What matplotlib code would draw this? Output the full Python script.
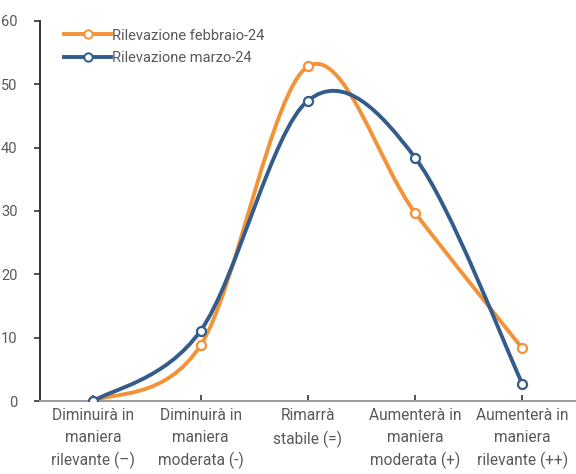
import numpy as np
import matplotlib
matplotlib.use("Agg")
import matplotlib.pyplot as plt
from matplotlib.path import Path
from matplotlib.patches import PathPatch
from matplotlib.lines import Line2D

# ------------------------------------------------------------
# Data
# ------------------------------------------------------------
categories = [
    "Diminuirà in\nmaniera\nrilevante (\u2013)",
    "Diminuirà in\nmaniera\nmoderata (-)",
    "Rimarrà\nstabile (=)",
    "Aumenterà in\nmaniera\nmoderata (+)",
    "Aumenterà in\nmaniera\nrilevante (++)",
]
feb_values = [0.0, 8.8, 52.8, 29.7, 8.3]
mar_values = [0.0, 11.1, 47.4, 38.4, 2.7]
series_labels = ["Rilevazione febbraio-24", "Rilevazione marzo-24"]
y_ticks = [0, 10, 20, 30, 40, 50, 60]

ORANGE = "#F39237"
BLUE = "#335C8A"
TEXT = "#595959"

plt.rcParams["font.family"] = ["Roboto", "DejaVu Sans"]


def smooth_path(xs, ys):
    """Excel-like smoothed line: cubic Bezier segments through the points."""
    pts = np.column_stack([xs, ys]).astype(float)
    ext = np.vstack([pts[0], pts, pts[-1]])
    verts = [pts[0]]
    codes = [Path.MOVETO]
    for i in range(1, len(ext) - 2):
        p0, p1, p2, p3 = ext[i - 1], ext[i], ext[i + 1], ext[i + 2]
        c1 = p1 + (p2 - p0) / 6.0
        c2 = p2 - (p3 - p1) / 6.0
        verts += [c1, c2, p2]
        codes += [Path.CURVE4] * 3
    return Path(verts, codes)


fig = plt.figure(figsize=(5.76, 4.74), dpi=100)
ax = fig.add_axes([0.069, 0.154, 0.931, 0.802])

x = np.arange(len(categories))
for vals, color in [(feb_values, ORANGE), (mar_values, BLUE)]:
    patch = PathPatch(smooth_path(x, vals), facecolor="none", edgecolor=color,
                      linewidth=2.8, capstyle="round", joinstyle="round", zorder=2)
    ax.add_patch(patch)
    ax.plot(x, vals, ls="none", marker="o", markersize=6.5, markerfacecolor="white",
            markeredgecolor=color, markeredgewidth=1.6, zorder=3)

ax.set_xlim(-0.5, len(categories) - 0.5)
ax.set_ylim(0, 60)
ax.set_yticks(y_ticks)
ax.set_xticks(x)
ax.set_xticklabels(categories, fontsize=11.2, color=TEXT, linespacing=1.55)
ax.tick_params(axis="y", labelsize=10.5, labelcolor=TEXT, direction="out",
               length=4, width=1.2, color="#333333", pad=12)
ax.tick_params(axis="x", direction="in", length=4, width=1.2, color="#333333", pad=5)

for side in ["top", "right"]:
    ax.spines[side].set_visible(False)
ax.spines["left"].set_color("#333333")
ax.spines["left"].set_linewidth(1.4)
ax.spines["bottom"].set_color("#9a9a9a")
ax.spines["bottom"].set_linewidth(1.4)

handles = [
    Line2D([], [], color=ORANGE, lw=2.8, marker="o", markersize=6,
           markerfacecolor="white", markeredgecolor=ORANGE, markeredgewidth=1.4),
    Line2D([], [], color=BLUE, lw=2.8, marker="o", markersize=6,
           markerfacecolor="white", markeredgecolor=BLUE, markeredgewidth=1.4),
]
leg = ax.legend(handles, series_labels, loc="upper left", bbox_to_anchor=(0.035, 0.995),
                frameon=False, fontsize=10.5, handlelength=3.2, handletextpad=0.1,
                labelspacing=0.6, borderaxespad=0.0)
for t in leg.get_texts():
    t.set_color(TEXT)

for lbl in ax.get_xticklabels():
    lbl.set_multialignment("center")

fig.savefig("out.png", dpi=100)
